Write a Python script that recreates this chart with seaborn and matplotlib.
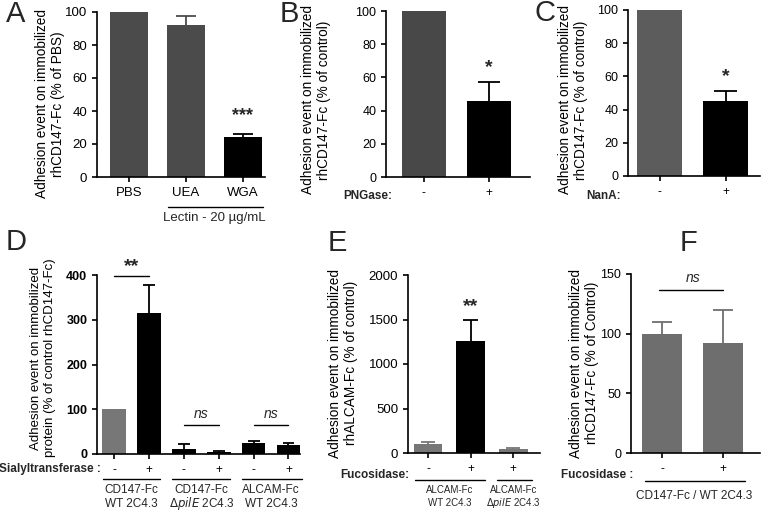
import matplotlib
matplotlib.use("Agg")
import matplotlib.pyplot as plt
import matplotlib.transforms as mtrans
import seaborn as sns
import pandas as pd
import numpy as np

sns.set_theme(style="ticks")
plt.rcParams['font.family'] = ['Liberation Sans', 'DejaVu Sans']

W, H = 762, 513

# ---------------- data ----------------
a_labels = ["PBS", "UEA", "WGA"]
a_values = [100, 92, 24]
a_errors = [0, 5.5, 2]

b_labels = ["-", "+"]
b_values = [100, 45.5]
b_errors = [0, 11.5]

c_labels = ["-", "+"]
c_values = [100, 45]
c_errors = [0, 6]

d_conditions = ["CD147 WT -", "CD147 WT +", "CD147 pilE -", "CD147 pilE +", "ALCAM WT -", "ALCAM WT +"]
d_ticklabels = ["-", "+", "-", "+", "-", "+"]
d_values = [100, 314, 12, 4, 24, 19]
d_errors = [0, 64, 11, 3, 4, 6]

e_conditions = ["ALCAM WT -", "ALCAM WT +", "ALCAM pilE +"]
e_ticklabels = ["-", "+", "+"]
e_values = [100, 1260, 40]
e_errors = [25, 240, 15]

f_conditions = ["-", "+"]
f_values = [100, 92]
f_errors = [10, 28]

# ---------------- helpers ----------------
fig = plt.figure(figsize=(W / 100, H / 100), dpi=100)


def make_ax(l, t, r, b):
    return fig.add_axes([l / W, 1 - b / H, (r - l) / W, (b - t) / H])


def fy(ypx):
    return 1 - ypx / H


def fx(xpx):
    return xpx / W


def draw_bars(ax, cats, values, errors, colors, width, capw):
    df = pd.DataFrame({"cond": cats, "val": values})
    pal = dict(zip(cats, colors))
    sns.barplot(data=df, x="cond", y="val", hue="cond", palette=pal, order=cats,
                hue_order=cats, width=width, saturation=1, errorbar=None,
                legend=False, ax=ax, linewidth=0)
    for i, (v, e, c) in enumerate(zip(values, errors, colors)):
        if e > 0:
            ax.vlines(i, v, v + e, color=c, lw=1.3, zorder=1)
            ax.hlines(v + e, i - capw / 2, i + capw / 2, color=c, lw=1.3, zorder=1)
    ax.set_xlabel("")


def style_ax(ax, xlim, ylim, yticks, ticklabels, fs_x=8.5, fs_y=8.5, ybold=False):
    ax.set_xlim(*xlim)
    ax.set_ylim(*ylim)
    ax.set_yticks(yticks)
    ax.set_xticks(range(len(ticklabels)))
    ax.set_xticklabels(ticklabels, fontsize=fs_x)
    for lab in ax.get_yticklabels():
        lab.set_fontsize(fs_y)
        if ybold:
            lab.set_fontweight("bold")
    sns.despine(ax=ax)
    for s in ["left", "bottom"]:
        ax.spines[s].set_linewidth(1.2)
        ax.spines[s].set_color("black")
    ax.tick_params(axis="both", length=3.5, width=1.2, color="black", pad=3.5,
                   labelcolor="black")
    ax.set_facecolor("white")


def ylab(ax, text, xpx, ypx, l, t, r, b, fs=9.8):
    ax.set_ylabel(text, fontsize=fs, ha="center", va="center", linespacing=1.15,
                  color="black")
    ax.yaxis.set_label_coords((xpx - l) / (r - l), (b - ypx) / (b - t))


def hline(ax, x0, x1, ypx, lw=1.0):
    tr = mtrans.blended_transform_factory(ax.transData, fig.transFigure)
    ax.plot([x0, x1], [fy(ypx), fy(ypx)], transform=tr, color="black",
            lw=lw, clip_on=False)


def letter(txt, xpx, ypx):
    fig.text(fx(xpx), fy(ypx), txt, fontsize=21, ha="center", va="center")


GRAY_A = "#4b4b4b"

# ---------------- Panel A ----------------
box = (97, 12, 265, 177)
ax = make_ax(*box)
draw_bars(ax, a_labels, a_values, a_errors, [GRAY_A, GRAY_A, "black"], 0.67, 0.35)
style_ax(ax, (-0.56, 2.39), (0, 100), [0, 20, 40, 60, 80, 100], a_labels, fs_x=9.5, fs_y=9.5)
ylab(ax, "Adhesion event on immobilized\nrhCD147-Fc (% of PBS)", 50, 104, *box)
ax.text(2, 37, "***", ha="center", va="center", fontsize=13, fontweight="bold")
tr = mtrans.blended_transform_factory(ax.transData, fig.transFigure)
ax.plot([0.68, 2.35], [fy(207), fy(207)], transform=tr, color="black", lw=1, clip_on=False)
fig.text(fx(214), fy(218), "Lectin - 20 µg/mL", ha="center", va="center", fontsize=9.5)
letter("A", 16, 14)

# ---------------- Panel B ----------------
box = (386, 11, 530, 177)
ax = make_ax(*box)
draw_bars(ax, ["ctrl", "PNGase"], b_values, b_errors, ["#484848", "black"], 0.68, 0.34)
style_ax(ax, (-0.58, 1.63), (0, 100), [0, 20, 40, 60, 80, 100], b_labels, fs_x=8.5, fs_y=9)
ylab(ax, "Adhesion event on immobilized\nrhCD147-Fc (% of control)", 316, 100, *box)
ax.text(1, 66, "*", ha="center", va="center", fontsize=14, fontweight="bold")
fig.text(fx(392), fy(196), "PNGase:", ha="right", va="center", fontsize=8.5, fontweight="bold")
letter("B", 289, 14)

# ---------------- Panel C ----------------
box = (628, 10, 760, 176)
ax = make_ax(*box)
draw_bars(ax, ["ctrl", "NanA"], c_values, c_errors, ["#5c5c5c", "black"], 0.68, 0.34)
style_ax(ax, (-0.48, 1.52), (0, 100), [0, 20, 40, 60, 80, 100], c_labels, fs_x=8.5, fs_y=9)
ylab(ax, "Adhesion event on immobilized\nrhCD147-Fc (% of control)", 573, 100, *box)
ax.text(1, 60, "*", ha="center", va="center", fontsize=14, fontweight="bold")
fig.text(fx(621), fy(196), "NanA:", ha="right", va="center", fontsize=8.5, fontweight="bold")
letter("C", 545, 13)

# ---------------- Panel D ----------------
box = (97, 275, 300, 454)
ax = make_ax(*box)
draw_bars(ax, d_conditions, d_values, d_errors,
          ["#777777", "black", "black", "black", "black", "black"], 0.68, 0.34)
style_ax(ax, (-0.49, 5.33), (0, 400), [0, 100, 200, 300, 400], d_ticklabels,
         fs_x=8.5, fs_y=9, ybold=True)
ylab(ax, "Adhesion event on immobilized\nprotein (% of control rhCD147-Fc)", 43, 358, *box, fs=9.5)
ax.plot([0, 1], [397, 397], color="black", lw=1)
ax.text(0.5, 418, "**", ha="center", va="center", fontsize=14, fontweight="bold")
ax.plot([2, 3], [65, 65], color="black", lw=1)
ax.text(2.5, 90, "ns", ha="center", va="center", fontsize=10, style="italic")
ax.plot([4, 5], [65, 65], color="black", lw=1)
ax.text(4.5, 90, "ns", ha="center", va="center", fontsize=10, style="italic")
fig.text(fx(101), fy(469), "Sialyltransferase :", ha="right", va="center", fontsize=8.5, fontweight="bold")
hline(ax, -0.33, 1.32, 479)
hline(ax, 1.66, 3.32, 479)
hline(ax, 3.66, 5.4, 479)
trD = mtrans.blended_transform_factory(ax.transData, fig.transFigure)
for cx, l1, l2 in [(0.5, "CD147-Fc", "WT 2C4.3"),
                   (2.5, "CD147-Fc", r"$\Delta$$\it{pilE}$ 2C4.3"),
                   (4.5, "ALCAM-Fc", "WT 2C4.3")]:
    ax.text(cx, fy(490), l1, transform=trD, ha="center", va="center", fontsize=8.5)
    ax.text(cx, fy(504), l2, transform=trD, ha="center", va="center", fontsize=8.5)
letter("D", 16, 242)

# ---------------- Panel E ----------------
box = (408, 275, 540, 453)
ax = make_ax(*box)
draw_bars(ax, e_conditions, e_values, e_errors, ["#777777", "black", "#777777"], 0.68, 0.34)
style_ax(ax, (-0.47, 2.63), (0, 2000), [0, 500, 1000, 1500, 2000], e_ticklabels,
         fs_x=8.5, fs_y=9.5)
ylab(ax, "Adhesion event on immobilized\nrhALCAM-Fc (% of control)", 343, 363, *box)
ax.text(1, 1650, "**", ha="center", va="center", fontsize=14, fontweight="bold")
fig.text(fx(409), fy(475), "Fucosidase:", ha="right", va="center", fontsize=8.5, fontweight="bold")
hline(ax, -0.3, 1.35, 480)
hline(ax, 1.62, 2.45, 480)
trE = mtrans.blended_transform_factory(ax.transData, fig.transFigure)
ax.text(0.5, fy(490), "ALCAM-Fc", transform=trE, ha="center", va="center", fontsize=7)
ax.text(0.5, fy(503), "WT 2C4.3", transform=trE, ha="center", va="center", fontsize=7)
ax.text(2.0, fy(490), "ALCAM-Fc", transform=trE, ha="center", va="center", fontsize=7)
ax.text(2.0, fy(503), r"$\Delta$$\it{pilE}$ 2C4.3", transform=trE, ha="center", va="center", fontsize=7)
letter("E", 337, 243)

# ---------------- Panel F ----------------
box = (631, 274, 760, 453)
ax = make_ax(*box)
draw_bars(ax, f_conditions, f_values, f_errors, ["#6e6e6e", "#6e6e6e"], 0.66, 0.33)
style_ax(ax, (-0.51, 1.6), (0, 150), [0, 50, 100, 150], f_conditions, fs_x=8.5, fs_y=9)
ylab(ax, "Adhesion event on immobilized\nrhCD147-Fc (% of Control)", 584, 363, *box)
ax.plot([-0.05, 1.0], [137, 137], color="black", lw=1, clip_on=False)
ax.text(0.5, 147, "ns", ha="center", va="center", fontsize=10, style="italic")
fig.text(fx(633), fy(475), "Fucosidase :", ha="right", va="center", fontsize=8.5, fontweight="bold")
hline(ax, -0.28, 1.35, 481)
trF = mtrans.blended_transform_factory(ax.transData, fig.transFigure)
ax.text(0.53, fy(496), "CD147-Fc / WT 2C4.3", transform=trF, ha="center", va="center", fontsize=8.5)
letter("F", 688, 243)

fig.savefig("out.png", dpi=100, facecolor="white")
